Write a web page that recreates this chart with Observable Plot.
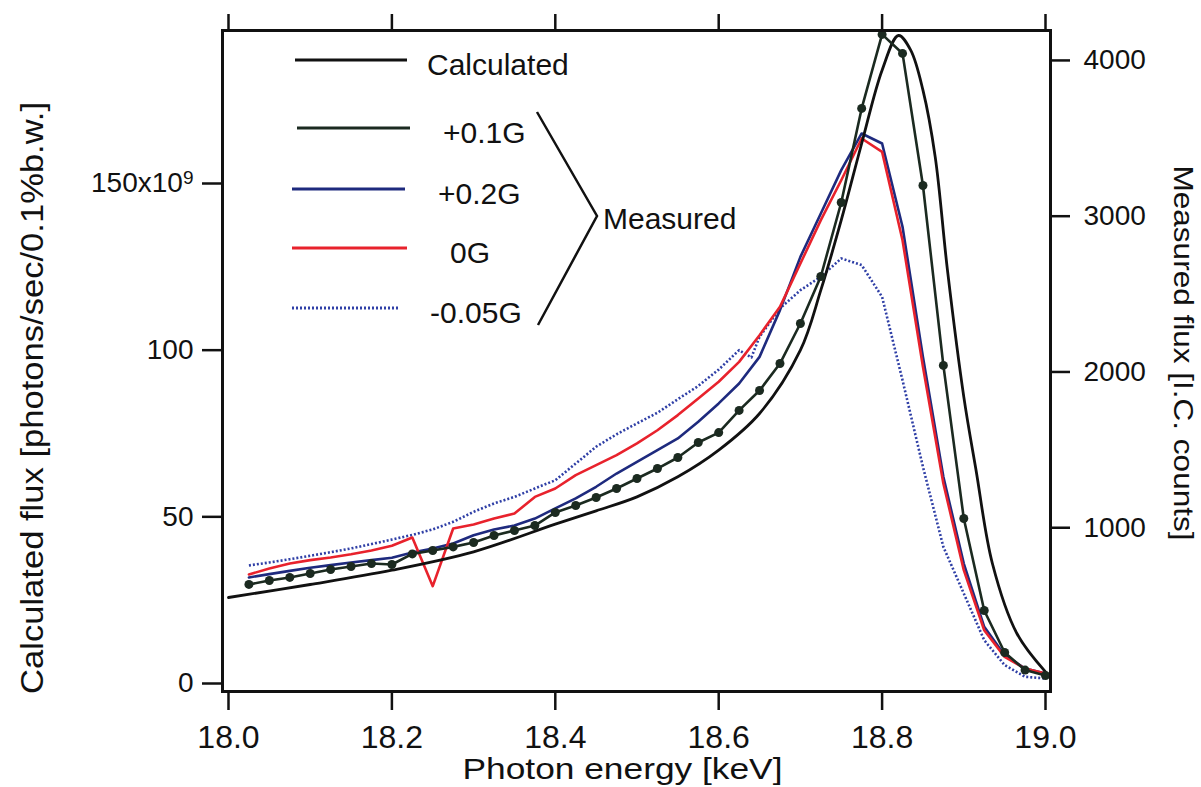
<!DOCTYPE html>
<html><head><meta charset="utf-8">
<script src="https://cdn.jsdelivr.net/npm/d3@7"></script>
<script src="https://cdn.jsdelivr.net/npm/@observablehq/plot@0.6"></script>
<style>
body{margin:0;background:#fff;}
#wrap{position:relative;width:1201px;height:787px;}
#legend{position:absolute;left:0;top:0;pointer-events:none;}
</style></head><body><div id="wrap"></div>
<script>
// ---- data ----
const xTicks = [18.0, 18.2, 18.4, 18.6, 18.8, 19.0];
const leftTicks = [0, 50, 100, 150];
const rightTicks = [1000, 2000, 3000, 4000];

// Calculated flux (x10^9 photons/sec/0.1%b.w.)
const energyCalc = [18.0,18.1,18.2,18.3,18.4,18.45,18.5,18.55,18.6,18.65,18.7,18.725,18.75,18.775,18.8,18.82,18.835,18.85,18.865,18.88,18.9,18.915,18.935,18.965,19.0];
const calcFlux   = [25.8,29.7,34.0,39.5,47.8,51.8,56,62,70,81,100,118,139,162,184,194.4,190,178,158,124,86,64,36,15,3.5];

// Measured flux (I.C. counts)
const energyMeasured = [18.025,18.05,18.075,18.1,18.125,18.15,18.175,18.2,18.225,18.25,18.275,18.3,18.325,18.35,18.375,18.4,18.425,18.45,18.475,18.5,18.525,18.55,18.575,18.6,18.625,18.65,18.675,18.7,18.725,18.75,18.775,18.8,18.825,18.85,18.875,18.9,18.925,18.95,18.975,19.0];
const plus01G = [636,661,681,706,732,751,770,764,832,854,877,905,950,982,1014,1098,1143,1194,1252,1316,1380,1451,1547,1611,1753,1881,2054,2311,2613,3088,3692,4167,4045,3197,2042,1059,469,199,86,51];
const plus02G = [681,702,723,743,760,777,792,807,841,867,899,952,989,1014,1059,1124,1188,1263,1348,1423,1498,1573,1680,1798,1926,2097,2397,2739,3017,3296,3531,3467,2932,2097,1327,770,364,182,96,64];
const zeroG   = [700,738,770,792,809,830,854,884,937,625,995,1021,1059,1091,1198,1252,1338,1402,1466,1541,1626,1723,1830,1937,2065,2236,2418,2696,2975,3231,3499,3413,2846,2033,1284,728,342,171,96,64];
const energyMinus005 = [18.025,18.05,18.075,18.1,18.125,18.15,18.175,18.2,18.225,18.25,18.275,18.3,18.325,18.35,18.375,18.4,18.425,18.45,18.475,18.5,18.525,18.55,18.575,18.6,18.625,18.64,18.65,18.675,18.7,18.725,18.75,18.775,18.8,18.825,18.85,18.875,18.9,18.925,18.95,18.975,19.0];
const minus005G = [758,777,798,820,843,867,895,924,954,989,1038,1102,1156,1198,1252,1305,1412,1520,1600,1670,1738,1825,1910,2015,2140,2093,2226,2408,2525,2611,2729,2686,2482,1947,1391,877,578,278,118,43,32];

// ratio between right (counts) and left (x10^9) axes
const K = 46.73 / 1000;

const calc = energyCalc.map((e,i)=>({e, v: calcFlux[i]}));
const m01 = energyMeasured.map((e,i)=>({e, v: plus01G[i]*K}));
const m02 = energyMeasured.map((e,i)=>({e, v: plus02G[i]*K}));
const m00 = energyMeasured.map((e,i)=>({e, v: zeroG[i]*K}));
const m005 = energyMinus005.map((e,i)=>({e, v: minus005G[i]*K}));

const C_BLACK = "#111";
const C_GREEN = "#1b2a20";
const C_BLUE = "#1e2a7e";
const C_RED = "#e8222c";
const C_DOT = "#2f3fa6";
const FONT = "'Liberation Sans', Arial, sans-serif";

const plot = Plot.plot({
  width: 1201, height: 787,
  marginLeft: 222, marginRight: 151, marginTop: 30, marginBottom: 96,
  style: {fontFamily: FONT, fontSize: "28px", color: "#111", background: "#fff"},
  x: {domain: [17.99266, 19.00612]},
  y: {domain: [-2.4, 195.9]},
  marks: [
    Plot.line(m005, {x:"e", y:"v", stroke: C_DOT, strokeWidth: 2.6, strokeDasharray: "2,2", strokeLinecap: "butt"}),
    Plot.line(m02, {x:"e", y:"v", stroke: C_BLUE, strokeWidth: 2.6}),
    Plot.line(m00, {x:"e", y:"v", stroke: C_RED, strokeWidth: 2.6}),
    Plot.line(calc, {x:"e", y:"v", stroke: C_BLACK, strokeWidth: 2.8, curve: "catmull-rom"}),
    Plot.line(m01, {x:"e", y:"v", stroke: C_GREEN, strokeWidth: 2.6}),
    Plot.dot(m01, {x:"e", y:"v", r: 4.5, fill: C_GREEN, stroke: "none"}),
    Plot.axisX({anchor:"bottom", ticks: xTicks, tickSize: 19, tickPadding: 15, tickFormat: d=>d.toFixed(1), label: null, strokeWidth: 2.5, fontSize: 32}),
    Plot.axisX({anchor:"top", ticks: xTicks, tickSize: 17, tickFormat: ()=>"", label: null, strokeWidth: 2.5}),
    Plot.axisY({anchor:"left", ticks: leftTicks, tickSize: 20, tickPadding: 9, tickFormat: d=> d===150 ? "150x10^9" : String(d), label: null, strokeWidth: 2.5}),
    Plot.axisY({anchor:"right", ticks: rightTicks.map(c=>c*K), tickSize: 19, tickPadding: 14, tickFormat: d=>String(Math.round(d/K/100)*100), label: null, strokeWidth: 2.5}),
    Plot.frame({stroke: "#111", strokeWidth: 3}),
    Plot.text(["Photon energy [keV]"], {frameAnchor: "bottom", textAnchor: "middle", text: d=>d, dx: -14, dy: 78, fontSize: 29, lineAnchor: "middle"}),
    Plot.text(["Calculated flux [photons/sec/0.1%b.w.]"], {frameAnchor: "left", textAnchor: "middle", text: d=>d, dx: -190, dy: 37, rotate: -90, fontSize: 32, lineAnchor: "middle"}),
    Plot.text(["Measured flux [I.C. counts]"], {frameAnchor: "right", textAnchor: "middle", text: d=>d, dx: 132, dy: -8, rotate: 90, fontSize: 28, lineAnchor: "middle"})
  ]
});

document.getElementById("wrap").appendChild(plot);

// superscript on 150x10^9; stretch the axis labels to the reference lengths
d3.select(plot).selectAll("text").each(function(){
  const s = this.textContent;
  if (s === "150x10^9") {
    const t = d3.select(this);
    t.text(null);
    t.append("tspan").text("150x10");
    t.append("tspan").attr("dy", "-0.45em").attr("font-size", "19px").text("9");
    return;
  }
  const len = {"Photon energy [keV]": 320, "Calculated flux [photons/sec/0.1%b.w.]": 592, "Measured flux [I.C. counts]": 375}[s];
  if (len) { this.setAttribute("textLength", len); this.setAttribute("lengthAdjust", "spacingAndGlyphs"); }
});

// legend overlay
const legendItems = [
  {label: "Calculated", color: C_BLACK, dash: null, y: 60, x1: 295, x2: 407, tx: 427},
  {label: "+0.1G", color: C_GREEN, dash: null, y: 128, x1: 297, x2: 410, tx: 443},
  {label: "+0.2G", color: C_BLUE, dash: null, y: 189, x1: 292, x2: 405, tx: 438},
  {label: "0G", color: C_RED, dash: null, y: 248, x1: 292, x2: 407, tx: 450},
  {label: "-0.05G", color: C_DOT, dash: "2,2", y: 308, x1: 292, x2: 400, tx: 430}
];
const lg = d3.select("#wrap").append("svg").attr("id","legend").attr("width",1201).attr("height",787)
  .style("font-family", FONT).style("font-size","30px");
legendItems.forEach(it=>{
  lg.append("line").attr("x1",it.x1).attr("x2",it.x2).attr("y1",it.y).attr("y2",it.y)
    .attr("stroke",it.color).attr("stroke-width",3).attr("stroke-dasharray",it.dash);
  lg.append("text").attr("x",it.tx).attr("y",it.y+4).attr("dy","0.35em").attr("fill","#111").text(it.label);
});
lg.append("path").attr("d","M537,112 L597,216 L538,325").attr("fill","none").attr("stroke","#111").attr("stroke-width",2.5);
lg.append("text").attr("x",603).attr("y",218).attr("dy","0.35em").attr("fill","#111").text("Measured");
</script></body></html>
